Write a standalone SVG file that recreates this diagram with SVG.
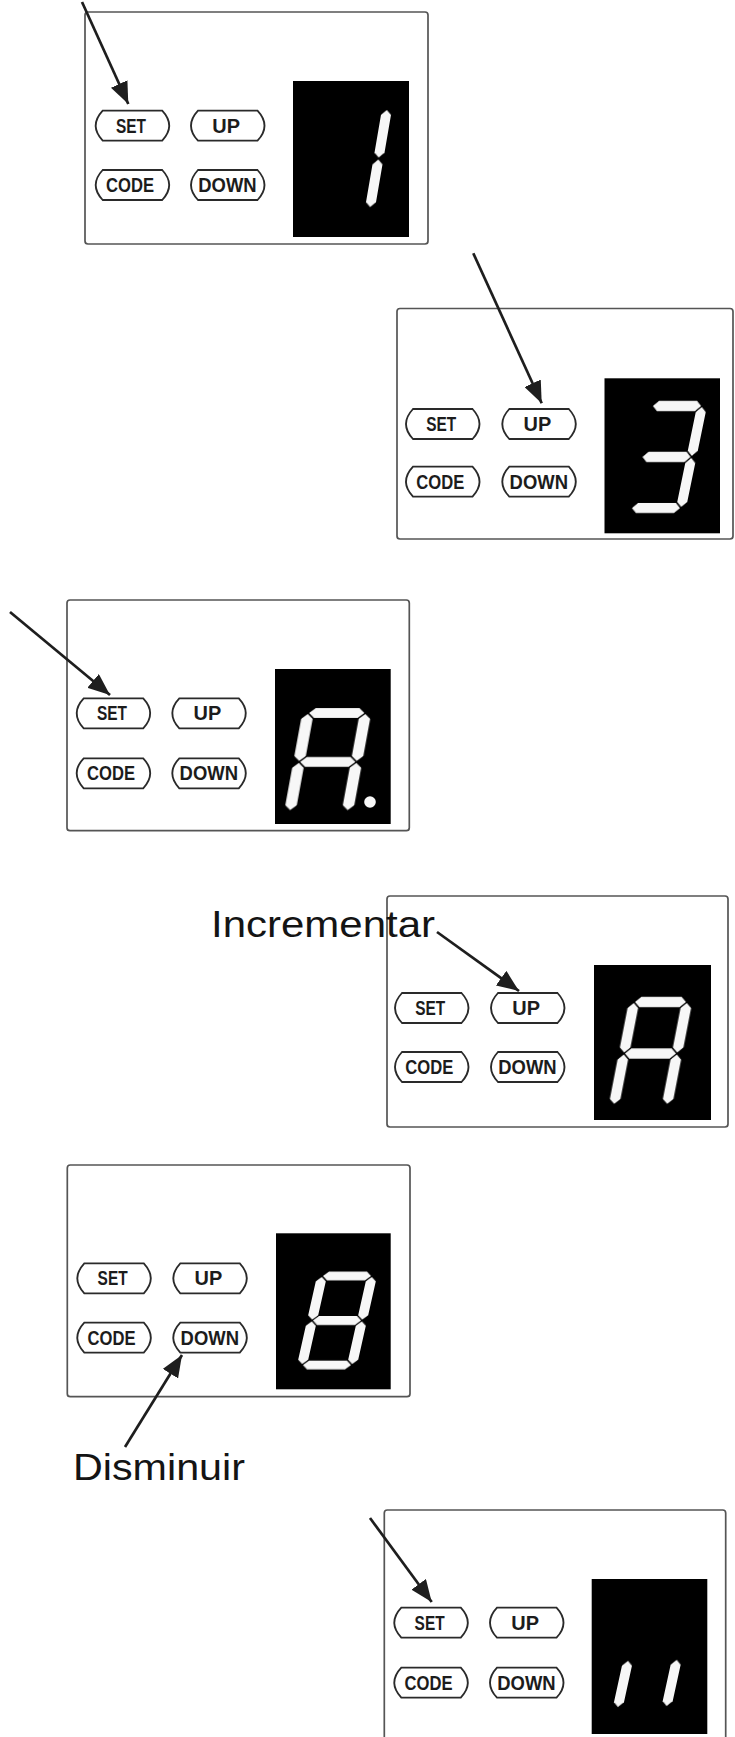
<svg xmlns="http://www.w3.org/2000/svg" width="735" height="1737" viewBox="0 0 735 1737">
<style>
.bg{fill:#fff}
.box{fill:none;stroke:#555;stroke-width:1.7}
.btn{fill:#fff;stroke:#2a2a2a;stroke-width:1.8}
.k{font-family:"Liberation Sans",Arial,sans-serif;font-size:21px;font-weight:700;fill:#1c1c1c}
.disp{fill:#000}
.seg{fill:#f7f7f7;filter:url(#soft)}
.arr{stroke:#1e1e1e;stroke-width:2.7;fill:none;marker-end:url(#ah)}
.lbl{font-family:"Liberation Sans",Arial,sans-serif;font-size:37px;fill:#141414}
</style>
<defs>
<marker id="ah" markerUnits="userSpaceOnUse" viewBox="0 0 22 18" refX="22" refY="9" markerWidth="22" markerHeight="18" orient="auto"><path d="M0,0 L22,9 L0,18 Z" fill="#1e1e1e"/></marker>
<filter id="soft" x="-30%" y="-30%" width="160%" height="160%"><feGaussianBlur stdDeviation="0.6"/></filter>
<path id="btn" class="btn" d="M7,0 H66.5 Q80.5,15 66.5,30 H7 Q-7,15 7,0 Z"/>
<polygon id="sa" points="1,0 6,-5 44,-5 49,0 44,5 6,5"/>
<polygon id="sg" points="1,50 6,45 44,45 49,50 44,55 6,55"/>
<polygon id="sd" points="1,100 6,95 44,95 49,100 44,105 6,105"/>
<polygon id="sf" points="0,1 5,6 5,44 0,49 -5,44 -5,6"/>
<polygon id="sb" points="50,1 55,6 55,44 50,49 45,44 45,6"/>
<polygon id="se" points="0,51 5,56 5,94 0,99 -5,94 -5,56"/>
<polygon id="sc" points="50,51 55,56 55,94 50,99 45,94 45,56"/>
</defs>
<rect class="bg" x="0" y="0" width="735" height="1737"/>

<g id="panel1">
<rect class="box" x="85" y="12" width="343" height="232" rx="3"/>
<use href="#btn" x="95.7" y="110.7"/>
<use href="#btn" x="191" y="110.7"/>
<use href="#btn" x="95.7" y="170"/>
<use href="#btn" x="191" y="170"/>
<text class="k" x="116" y="132.7" textLength="30" lengthAdjust="spacingAndGlyphs">SET</text>
<text class="k" x="212.3" y="132.7" textLength="27.7" lengthAdjust="spacingAndGlyphs">UP</text>
<text class="k" x="106" y="192" textLength="48" lengthAdjust="spacingAndGlyphs">CODE</text>
<text class="k" x="198.3" y="192" textLength="58.4" lengthAdjust="spacingAndGlyphs">DOWN</text>
<rect class="disp" x="293" y="81" width="116" height="156"/>
<g class="seg" transform="matrix(1,0,-0.17,0.99,337,109)"><use href="#sb"/><use href="#sc"/></g>
</g>

<g id="panel2">
<rect class="box" x="397" y="308.5" width="336" height="230.5" rx="3"/>
<use href="#btn" x="406" y="409"/>
<use href="#btn" x="502.3" y="409"/>
<use href="#btn" x="406" y="466.7"/>
<use href="#btn" x="502.3" y="466.7"/>
<text class="k" x="426.3" y="431" textLength="30" lengthAdjust="spacingAndGlyphs">SET</text>
<text class="k" x="523.6" y="431" textLength="27.7" lengthAdjust="spacingAndGlyphs">UP</text>
<text class="k" x="416.3" y="488.7" textLength="48" lengthAdjust="spacingAndGlyphs">CODE</text>
<text class="k" x="509.6" y="488.7" textLength="58.4" lengthAdjust="spacingAndGlyphs">DOWN</text>
<rect class="disp" x="604.5" y="378.3" width="115.5" height="155"/>
<g class="seg" transform="matrix(1,0,-0.21,1.02,652,406)"><use href="#sa"/><use href="#sb"/><use href="#sg"/><use href="#sc"/><use href="#sd"/></g>
</g>

<g id="panel3">
<rect class="box" x="67" y="600" width="342.3" height="230.7" rx="3"/>
<use href="#btn" x="76.7" y="698.3"/>
<use href="#btn" x="172.3" y="698.3"/>
<use href="#btn" x="76.7" y="758.3"/>
<use href="#btn" x="172.3" y="758.3"/>
<text class="k" x="97" y="720.3" textLength="30" lengthAdjust="spacingAndGlyphs">SET</text>
<text class="k" x="193.6" y="720.3" textLength="27.7" lengthAdjust="spacingAndGlyphs">UP</text>
<text class="k" x="87" y="780.3" textLength="48" lengthAdjust="spacingAndGlyphs">CODE</text>
<text class="k" x="179.6" y="780.3" textLength="58.4" lengthAdjust="spacingAndGlyphs">DOWN</text>
<rect class="disp" x="275" y="669" width="115.7" height="155"/>
<g class="seg" transform="matrix(1.15,0,-0.18,0.98,308,713)"><use href="#sa"/><use href="#sb"/><use href="#sc"/><use href="#se"/><use href="#sf"/><use href="#sg"/></g>
<circle class="seg" cx="370" cy="802" r="5.8"/>
</g>

<g id="panel4">
<rect class="box" x="387" y="896" width="341" height="231" rx="3"/>
<use href="#btn" x="395" y="993"/>
<use href="#btn" x="491" y="993"/>
<use href="#btn" x="395" y="1052"/>
<use href="#btn" x="491" y="1052"/>
<text class="k" x="415.3" y="1015" textLength="30" lengthAdjust="spacingAndGlyphs">SET</text>
<text class="k" x="512.3" y="1015" textLength="27.7" lengthAdjust="spacingAndGlyphs">UP</text>
<text class="k" x="405.3" y="1074" textLength="48" lengthAdjust="spacingAndGlyphs">CODE</text>
<text class="k" x="498.3" y="1074" textLength="58.4" lengthAdjust="spacingAndGlyphs">DOWN</text>
<rect class="disp" x="594" y="965" width="117" height="155"/>
<g class="seg" transform="matrix(1.06,0,-0.2,1.03,634,1002)"><use href="#sa"/><use href="#sb"/><use href="#sc"/><use href="#se"/><use href="#sf"/><use href="#sg"/></g>
</g>

<g id="panel5">
<rect class="box" x="67.3" y="1165" width="342.7" height="231.7" rx="3"/>
<use href="#btn" x="77.3" y="1263.3"/>
<use href="#btn" x="173.3" y="1263.3"/>
<use href="#btn" x="77.3" y="1322.7"/>
<use href="#btn" x="173.3" y="1322.7"/>
<text class="k" x="97.6" y="1285.3" textLength="30" lengthAdjust="spacingAndGlyphs">SET</text>
<text class="k" x="194.6" y="1285.3" textLength="27.7" lengthAdjust="spacingAndGlyphs">UP</text>
<text class="k" x="87.6" y="1344.7" textLength="48" lengthAdjust="spacingAndGlyphs">CODE</text>
<text class="k" x="180.6" y="1344.7" textLength="58.4" lengthAdjust="spacingAndGlyphs">DOWN</text>
<rect class="disp" x="276" y="1233.3" width="114.7" height="156"/>
<g class="seg" transform="matrix(1,0,-0.2,0.89,322,1276)"><use href="#sa"/><use href="#sb"/><use href="#sc"/><use href="#sd"/><use href="#se"/><use href="#sf"/><use href="#sg"/></g>
</g>

<g id="panel6">
<rect class="box" x="384.3" y="1510" width="341.4" height="231" rx="3"/>
<use href="#btn" x="394.3" y="1607.7"/>
<use href="#btn" x="490" y="1607.7"/>
<use href="#btn" x="394.3" y="1667.7"/>
<use href="#btn" x="490" y="1667.7"/>
<text class="k" x="414.6" y="1629.7" textLength="30" lengthAdjust="spacingAndGlyphs">SET</text>
<text class="k" x="511.3" y="1629.7" textLength="27.7" lengthAdjust="spacingAndGlyphs">UP</text>
<text class="k" x="404.6" y="1689.7" textLength="48" lengthAdjust="spacingAndGlyphs">CODE</text>
<text class="k" x="497.3" y="1689.7" textLength="58.4" lengthAdjust="spacingAndGlyphs">DOWN</text>
<rect class="disp" x="591.7" y="1579" width="115.6" height="155"/>
<g class="seg" transform="matrix(1,0,-0.21,0.96,588.7,1612)"><use href="#sc"/></g>
<g class="seg" transform="matrix(1,0,-0.21,0.96,637.4,1611)"><use href="#sc"/></g>
</g>

<g id="label-incrementar">
<text class="lbl" x="211" y="937" textLength="224" lengthAdjust="spacingAndGlyphs">Incrementar</text>
</g>
<g id="label-disminuir">
<text class="lbl" x="73" y="1480" textLength="172" lengthAdjust="spacingAndGlyphs">Disminuir</text>
</g>

<g id="connectors">
<line class="arr" x1="82" y1="2" x2="128.3" y2="104"/>
<line class="arr" x1="473.3" y1="253.3" x2="541.7" y2="403.3"/>
<line class="arr" x1="10" y1="612" x2="110" y2="695"/>
<line class="arr" x1="437" y1="932" x2="519" y2="991"/>
<line class="arr" x1="125" y1="1447" x2="182" y2="1355"/>
<line class="arr" x1="370" y1="1518" x2="431.7" y2="1602"/>
</g>
</svg>
